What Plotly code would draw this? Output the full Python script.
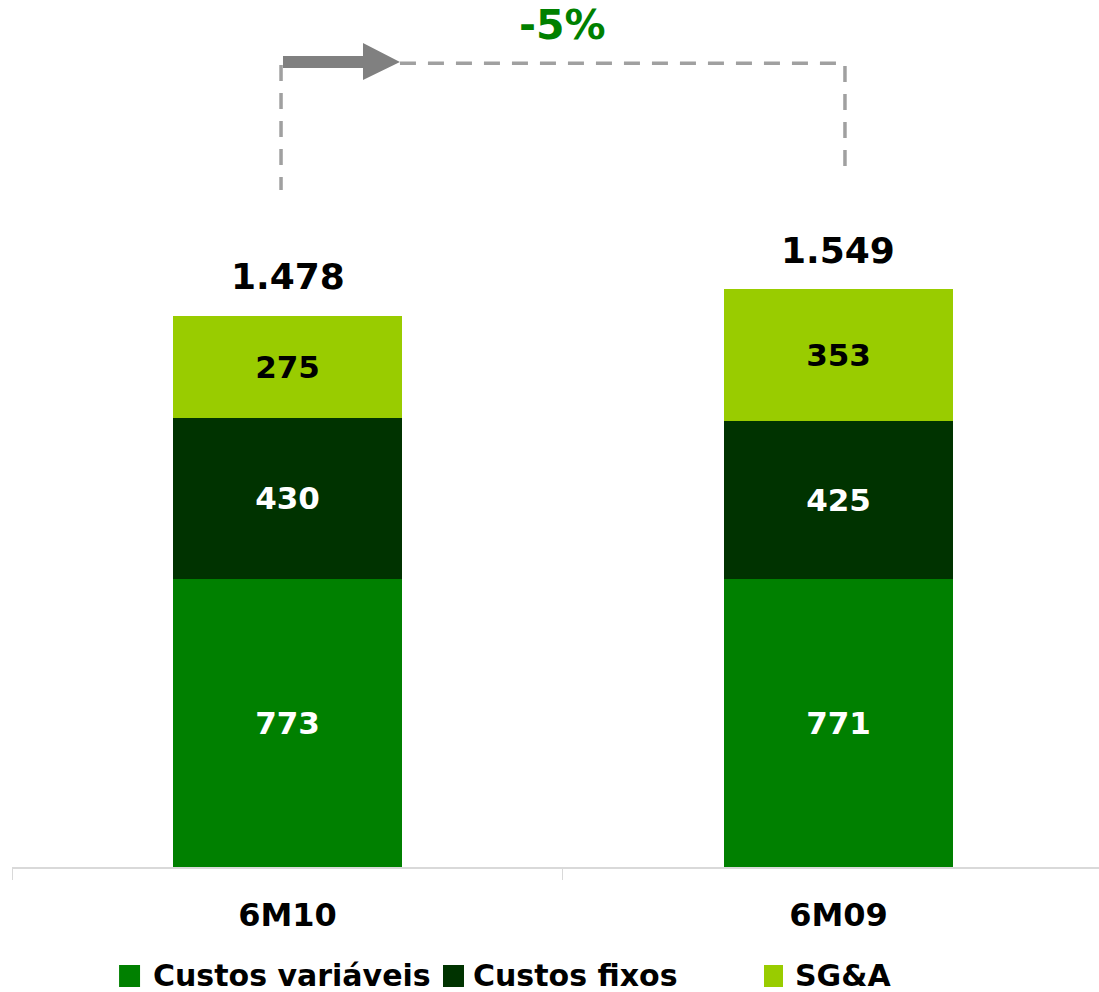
import plotly.graph_objects as go

categories = ["6M10", "6M09"]
series_names = ["Custos variáveis", "Custos fixos", "SG&A"]
custos_variaveis = [773, 771]
custos_fixos = [430, 425]
sga = [275, 353]
totals = [1478, 1549]
change_label = "-5%"

colors = ["#008000", "#003300", "#99CC00"]
text_colors = ["white", "white", "black"]
series_values = [custos_variaveis, custos_fixos, sga]

FONT = "DejaVu Sans, Verdana, sans-serif"

fig = go.Figure()
for name, vals, col, tcol in zip(series_names, series_values, colors, text_colors):
    fig.add_trace(go.Bar(
        x=categories, y=vals, name=name,
        marker=dict(color=col, line=dict(width=0)),
        width=0.4156,
        text=[str(v) for v in vals],
        textposition="inside", insidetextanchor="middle",
        textfont=dict(family=FONT, size=31, color=tcol, weight="bold"),
        textangle=0,
        showlegend=False, hoverinfo="skip",
    ))

def fmt(v):
    return f"{v:,}".replace(",", ".")

annotations = []
for c, t in zip(categories, totals):
    annotations.append(dict(
        x=c, y=t, xref="x", yref="y", text=f"<b>{fmt(t)}</b>",
        showarrow=False, yanchor="middle", yshift=39,
        font=dict(family=FONT, size=36, color="black"),
    ))

# change label
annotations.append(dict(
    x=0.506, y=0.9712, xref="paper", yref="paper", text=f"<b>{change_label}</b>",
    showarrow=False, xanchor="center", yanchor="middle",
    font=dict(family=FONT, size=41, color="#008000"),
))

shapes = []
dash_line = dict(color="#a0a0a0", width=3.5, dash="16px,12px")
# left vertical
shapes.append(dict(type="line", xref="paper", yref="paper",
                   x0=0.2475, x1=0.2475, y0=0.9250, y1=0.7809, line=dash_line))
# right vertical
shapes.append(dict(type="line", xref="paper", yref="paper",
                   x0=0.7663, x1=0.7663, y0=0.9239, y1=0.8085, line=dash_line))
# horizontal
shapes.append(dict(type="line", xref="paper", yref="paper",
                   x0=0.3569, x1=0.7581, y0=0.9270, y1=0.9270, line=dash_line))
# arrow
bx0, bx1, tip = 0.2493, 0.3229, 0.3569
by_top, by_bot = 0.9354, 0.9216
hy_top, hy_bot, yc = 0.9504, 0.9077, 0.9285
path = (f"M {bx0},{by_top} L {bx1},{by_top} L {bx1},{hy_top} L {tip},{yc} "
        f"L {bx1},{hy_bot} L {bx1},{by_bot} L {bx0},{by_bot} Z")
shapes.append(dict(type="path", xref="paper", yref="paper", path=path,
                   fillcolor="#808080", line=dict(width=0)))

# manual legend
legend_boxes = [(0.0985, 0.1178), (0.3965, 0.4158), (0.6918, 0.7093)]
legend_text_x = [0.1279, 0.4223, 0.7185]
for (x0, x1), tx, name, col in zip(legend_boxes, legend_text_x, series_names, colors):
    shapes.append(dict(type="rect", xref="paper", yref="paper",
                       x0=x0, x1=x1, y0=-0.1130, y1=-0.1384,
                       fillcolor=col, line=dict(width=0)))
    annotations.append(dict(
        x=tx, y=-0.1257, xref="paper", yref="paper", text=f"<b>{name}</b>",
        showarrow=False, xanchor="left", yanchor="middle",
        font=dict(family=FONT, size=30, color="black"),
    ))

fig.update_layout(
    width=1099, height=992,
    margin=dict(l=12, r=0, t=0, b=125),
    barmode="stack",
    paper_bgcolor="white", plot_bgcolor="white",
    showlegend=False,
    annotations=annotations, shapes=shapes,
    xaxis=dict(
        type="category", range=[-0.5, 1.4728],
        showline=True, linecolor="#d9d9d9", linewidth=2,
        ticks="outside", ticklen=11, tickcolor="#d9d9d9", tickwidth=1,
        tickson="boundaries", showgrid=False, zeroline=False,
        tickfont=dict(family=FONT, size=32, color="black", weight="bold"),
        ticklabelstandoff=19,
    ),
    yaxis=dict(range=[0, 2324], visible=False, showgrid=False, zeroline=False),
)

fig.write_html(
    "out.html",
    config={"displayModeBar": False},
    post_script="document.body.style.margin='0';document.body.style.overflow='hidden';",
)
